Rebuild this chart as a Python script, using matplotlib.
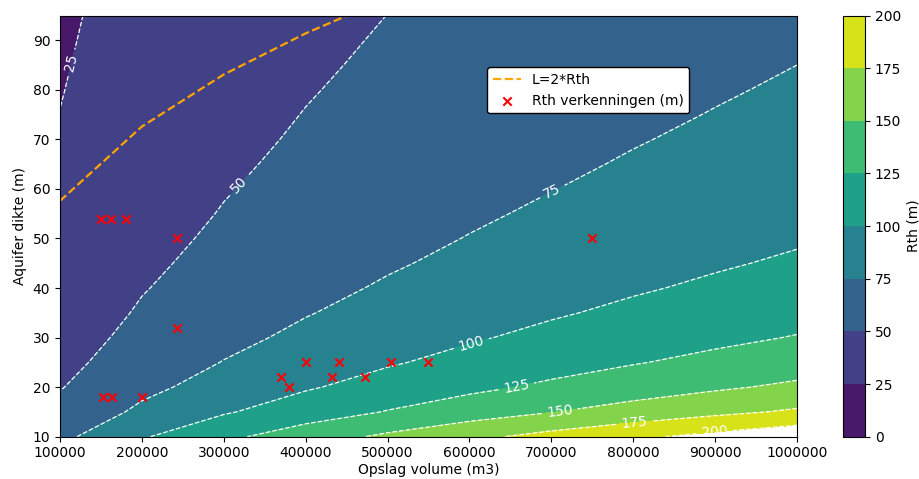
import numpy as np
import matplotlib
matplotlib.use("Agg")
import matplotlib.pyplot as plt

# grid: storage volume (m3) x aquifer thickness (m)
volume = [100000, 200000, 300000, 400000, 500000, 600000, 700000, 800000, 900000, 1000000]
thickness = [10, 15, 20, 25, 30, 35, 40, 45, 50, 55, 60, 65, 70, 75, 80, 85, 90, 95]

# thermal radius Rth (m), one row per thickness
rth_grid = [
    [69.1, 97.7, 119.7, 138.2, 154.5, 169.3, 182.8, 195.4, 207.3, 218.5],
    [56.4, 79.8, 97.7, 112.8, 126.2, 138.2, 149.3, 159.6, 169.3, 178.4],
    [48.9, 69.1, 84.6, 97.7, 109.3, 119.7, 129.3, 138.2, 146.6, 154.5],
    [43.7, 61.8, 75.7, 87.4, 97.7, 107.1, 115.6, 123.6, 131.1, 138.2],
    [39.9, 56.4, 69.1, 79.8, 89.2, 97.7, 105.6, 112.8, 119.7, 126.2],
    [36.9, 52.2, 64.0, 73.9, 82.6, 90.5, 97.7, 104.5, 110.8, 116.8],
    [34.5, 48.9, 59.8, 69.1, 77.3, 84.6, 91.4, 97.7, 103.6, 109.3],
    [32.6, 46.1, 56.4, 65.1, 72.8, 79.8, 86.2, 92.1, 97.7, 103.0],
    [30.9, 43.7, 53.5, 61.8, 69.1, 75.7, 81.8, 87.4, 92.7, 97.7],
    [29.5, 41.7, 51.0, 58.9, 65.9, 72.2, 78.0, 83.3, 88.4, 93.2],
    [28.2, 39.9, 48.9, 56.4, 63.1, 69.1, 74.6, 79.8, 84.6, 89.2],
    [27.1, 38.3, 46.9, 54.2, 60.6, 66.4, 71.7, 76.7, 81.3, 85.7],
    [26.1, 36.9, 45.2, 52.2, 58.4, 64.0, 69.1, 73.9, 78.4, 82.6],
    [25.2, 35.7, 43.7, 50.5, 56.4, 61.8, 66.8, 71.4, 75.7, 79.8],
    [24.4, 34.5, 42.3, 48.9, 54.6, 59.8, 64.6, 69.1, 73.3, 77.3],
    [23.7, 33.5, 41.1, 47.4, 53.0, 58.1, 62.7, 67.0, 71.1, 75.0],
    [23.0, 32.6, 39.9, 46.1, 51.5, 56.4, 60.9, 65.1, 69.1, 72.8],
    [22.4, 31.7, 38.8, 44.8, 50.1, 54.9, 59.3, 63.4, 67.3, 70.9],
]

# thickness where L = 2*Rth, per volume
line_dikte = [57.6, 72.6, 83.1, 91.4, 98.5, 104.6, 110.2, 115.2, 119.8, 124.1]

# explored locations
verk_volume = [150000, 162000, 180000, 243000, 243000, 153000, 164000, 200000,
               370000, 380000, 400000, 432000, 441000, 472000, 504000, 550000, 750000]
verk_dikte = [54, 54, 54, 50, 32, 18, 18, 18, 22, 20, 25, 22, 25, 22, 25, 25, 50]

levels = [0, 25, 50, 75, 100, 125, 150, 175, 200]

# where the inline contour labels sit (volume, thickness)
label_pos = [(113000, 85.5), (317000, 61), (701000, 59.6), (602000, 29),
             (657000, 20.2), (710000, 15.4), (801000, 13.4), (899000, 11.3)]


def main():
    fig = plt.figure(figsize=(9.19, 4.79), dpi=100)
    ax = fig.add_axes([0.0653, 0.0883, 0.8019, 0.8793])
    cax = fig.add_axes([0.9173, 0.0883, 0.0239, 0.8793])

    X, Y = np.meshgrid(volume, thickness)
    Z = np.array(rth_grid)

    cf = ax.contourf(X, Y, Z, levels=levels, cmap="viridis")
    cs = ax.contour(X, Y, Z, levels=levels[1:], colors="white",
                    linestyles="dashed", linewidths=0.9)
    ax.clabel(cs, fmt="%d", fontsize=10, inline=True, manual=label_pos)

    ax.plot(volume, line_dikte, color="orange", linestyle="--", linewidth=1.6,
            label="L=2*Rth")
    ax.scatter(verk_volume, verk_dikte, marker="x", color="red", s=36,
               label="Rth verkenningen (m)", zorder=3)

    ax.set_xlim(100000, 1000000)
    ax.set_ylim(10, 95)
    ax.set_xticks(volume)
    ax.ticklabel_format(axis="x", style="plain")
    ax.set_xlabel("Opslag volume (m3)", labelpad=2)
    ax.set_ylabel("Aquifer dikte (m)")

    leg = ax.legend(loc="upper left", bbox_to_anchor=(0.58, 0.877),
                    borderaxespad=0, framealpha=1, fancybox=True)
    leg.get_frame().set_edgecolor("black")

    cb = fig.colorbar(cf, cax=cax, ticks=levels)
    cb.set_label("Rth (m)")

    fig.savefig("out.png", dpi=100)
    plt.close(fig)


if __name__ == "__main__":
    main()
